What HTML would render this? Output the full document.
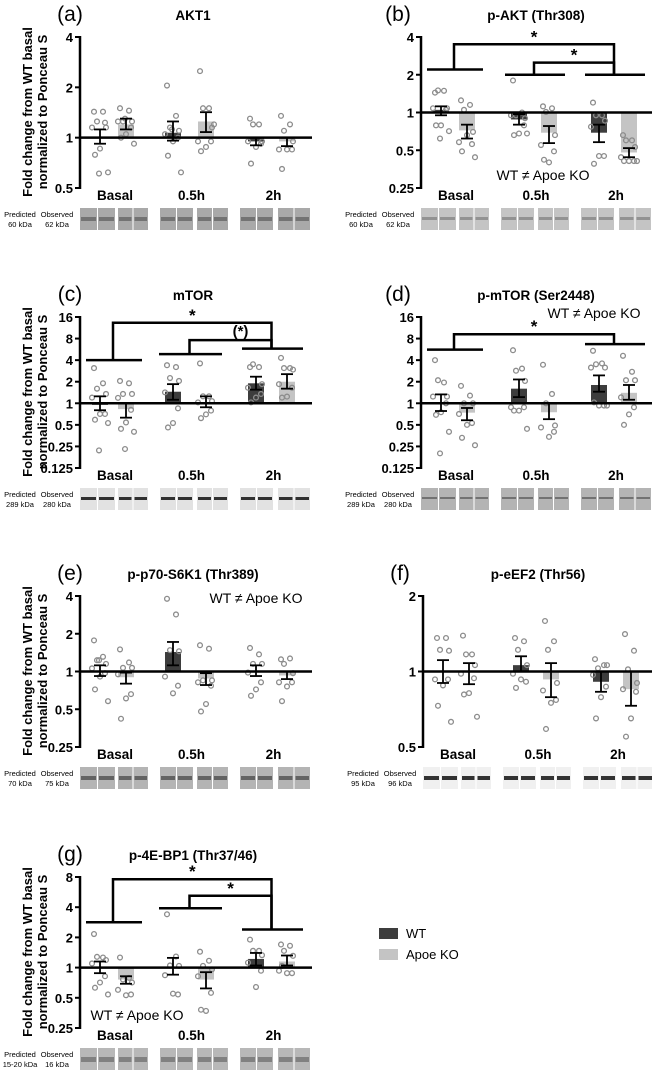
<!DOCTYPE html>
<html><head><meta charset="utf-8"><style>
html,body{margin:0;padding:0;background:#fff;}
svg{display:block;font-family:"Liberation Sans",sans-serif;}
</style></head><body>
<svg id="fig" width="652" height="1073" viewBox="0 0 652 1073" xmlns="http://www.w3.org/2000/svg"></svg>
<script>
// ---- data ----
const groups = ["Basal","0.5h","2h"];
const seriesNames = ["WT","Apoe KO"];
// panel a AKT1
const aMeans = [1.0,1.2,1.07,1.25,0.95,0.95];
const aErrLo = [0.92,1.12,0.96,1.08,0.9,0.89];
const aErrHi = [1.12,1.3,1.25,1.42,1.0,1.0];
const aPts = [[1.43,1.43,1.25,1.15,1.15,1.23,0.86,0.79,0.62,0.61],[1.5,1.45,1.25,1.25,1.25,1.15,1.05,1.0,0.92,1.3],[2.05,1.35,1.15,1.1,1.05,1.0,0.95,0.78,0.62,1.12],[2.5,1.5,1.5,1.15,0.95,0.95,0.88,0.83,1.2],[1.3,1.2,1.2,0.95,0.95,0.92,0.88,0.7],[1.35,1.2,1.1,0.95,0.85,0.85,0.85,0.65]];
const aTicks = [0.5,1,2,4];
// panel b p-AKT
const bMeans = [1.05,0.72,0.88,0.69,0.69,0.48];
const bErrLo = [0.95,0.62,0.8,0.57,0.58,0.44];
const bErrHi = [1.12,0.8,0.97,0.78,0.8,0.52];
const bPts = [[1.44,1.49,1.5,1.08,1.08,1.05,0.79,0.79,0.71,0.62],[1.25,1.15,1.05,0.7,0.58,0.56,0.66,0.49,0.44],[1.8,1.0,0.95,0.9,0.95,0.79,0.68,0.66,0.68],[1.12,1.08,1.01,0.66,0.55,0.49,0.4,0.42],[1.2,0.95,0.95,0.86,0.77,0.45,0.45,0.39],[0.66,0.6,0.6,0.53,0.44,0.41,0.41,0.41,0.41]];
const bTicks = [0.25,0.5,1,2,4];
const bGroupLines = [[0,2.2],[1,2.0],[2,2.0]];
const bLinks = [[1,2,2.5,"*"],[0,2,3.5,"*"]];
// panel c mTOR
const cMeans = [0.95,0.83,1.45,1.0,1.9,2.0];
const cErrLo = [0.8,0.63,1.12,0.88,1.55,1.6];
const cErrHi = [1.25,1.0,1.85,1.25,2.35,2.55];
const cPts = [[3.1,1.9,1.6,1.35,1.2,0.71,0.71,0.59,0.53,0.22],[2.05,1.9,1.35,1.35,1.19,0.81,0.54,0.44,0.4,0.23],[3.4,3.2,2.25,2.05,1.42,0.85,0.53,0.46],[3.6,1.25,1.25,1.07,1.03,0.79,0.7,0.62],[3.2,3.2,3.5,1.85,1.65,1.35,1.2,1.03],[4.3,3.1,3.1,2.95,1.85,1.65,1.24,1.2]];
const cTicks = [0.125,0.25,0.5,1,2,4,8,16];
const cGroupLines = [[0,4],[1,4.85],[2,5.8]];
const cLinks = [[1,2,7.6,"(*)"],[0,2,13.3,"*"]];
// panel d p-mTOR
const dMeans = [1.0,0.74,1.6,0.75,1.8,1.4];
const dErrLo = [0.78,0.58,1.22,0.6,1.45,1.12];
const dErrHi = [1.33,0.86,2.15,1.0,2.45,1.8];
const dPts = [[4.0,1.95,2.1,1.24,1.24,1.0,0.75,0.69,0.4,0.2],[1.75,1.28,1.0,1.0,0.71,0.53,0.5,0.33,0.26],[5.5,3.05,2.85,2.05,0.88,0.88,0.79,0.79,0.44],[3.45,1.35,1.0,0.49,0.46,0.4,0.34],[5.4,3.6,3.5,3.15,3.15,0.93,0.93,1.03,0.93],[4.6,2.75,2.1,2.1,1.21,0.88,0.7,0.5]];
const dGroupLines = [[0,5.6],[2,6.7]];
const dLinks = [[0,2,9.2,"*"]];
// panel e p-p70-S6K1
const eMeans = [1.0,0.9,1.43,0.88,1.0,0.93];
const eErrLo = [0.92,0.8,1.12,0.78,0.92,0.87];
const eErrHi = [1.12,0.98,1.72,0.97,1.12,1.0];
const ePts = [[1.77,1.31,1.23,1.15,1.06,0.97,0.91,0.72,0.58,1.23],[1.5,1.18,1.07,1.07,0.95,0.66,0.61,0.42],[3.8,2.85,1.48,1.45,0.91,0.77,0.67],[1.62,1.52,0.85,0.85,0.82,0.77,0.55,0.48],[1.54,1.37,1.15,1.15,0.98,0.82,0.72,0.64],[1.25,1.27,1.15,0.97,0.82,0.82,0.76,0.58]];
// panel f p-eEF2
const fMeans = [1.0,1.0,1.06,0.93,0.91,0.85];
const fErrLo = [0.9,0.89,1.0,0.79,0.83,0.73];
const fErrHi = [1.11,1.08,1.15,1.08,1.0,1.0];
const fPts = [[1.36,1.36,1.22,1.21,0.93,0.93,0.88,0.73,0.63],[1.39,1.17,1.17,1.06,0.98,0.94,0.82,0.81,0.66],[1.36,1.32,1.22,1.06,0.98,0.91,0.93,0.86],[1.59,1.32,1.22,0.9,0.84,0.77,0.75,0.59],[1.12,1.06,1.03,1.06,0.97,0.87,0.79,0.65],[1.41,1.21,1.02,0.9,0.85,0.83,0.65,0.55]];
const fTicks = [0.5,1,2];
// panel g p-4E-BP1
const gMeans = [1.0,0.76,1.0,0.76,1.22,1.15];
const gErrLo = [0.88,0.69,0.85,0.62,1.05,1.05];
const gErrHi = [1.15,0.82,1.25,0.9,1.4,1.32];
const gPts = [[2.16,1.26,1.28,1.19,1.1,0.82,0.71,0.63,0.54],[1.26,0.79,0.76,0.71,0.6,0.54,0.53],[3.4,1.29,1.05,1.04,0.84,0.54,0.55],[1.44,1.17,1.04,0.96,0.82,0.56,0.37,0.38],[1.9,1.47,1.47,1.33,1.12,0.93,0.64],[1.7,1.65,1.47,1.31,0.93,0.88,0.88,1.04]];
const gTicks = [0.25,0.5,1,2,4,8];
const gGroupLines = [[0,2.83],[1,3.9],[2,2.4]];
const gLinks = [[1,2,5.2,"*"],[0,2,7.6,"*"]];

// ---- drawing ----
const NS="http://www.w3.org/2000/svg";
const svg=document.getElementById('fig');
function mk(tag,attrs,parent){const e=document.createElementNS(NS,tag);for(const k in attrs)e.setAttribute(k,attrs[k]);(parent||svg).appendChild(e);return e;}
const jit=[-6,3,-3,6,-8,5,0,-5,8,-1];
const relLeft=[20,46,93,126,176,207];
const relRight=[20,46,98,128,178,208];
const blotsRel=[[0,35],[38,68],[80,113],[117,148],[160,193],[198,230]];

function panel(p){
  const g=mk('g',{});
  
  
  const ax=p.ax, top=p.oy+37, bot=p.oy+188;
  const lmin=Math.log2(p.ticks[0]), lmax=Math.log2(p.ticks[p.ticks.length-1]);
  const y=v=>bot-(Math.log2(v)-lmin)/(lmax-lmin)*(bot-top);
  const xs=(p.right?relRight:relLeft).map(r=>ax+r);
  let t=mk('text',{x:p.right?ax-23:ax-10,y:p.oy+21,'font-size':21,'text-anchor':'middle'},g);t.textContent='('+p.id+')';
  
  t=mk('text',{x:ax+(p.right?115:113),y:p.oy+20,'font-size':13.5,'font-weight':'bold','text-anchor':'middle'},g);t.textContent=p.title;
  
  const axis=mk('line',{x1:ax,x2:ax,y1:top-1,y2:bot+1,stroke:'#000','stroke-width':2.5},g);
  
  p.ticks.forEach(v=>{
    const tk=mk('line',{x1:ax-5,x2:ax,y1:y(v),y2:y(v),stroke:'#000','stroke-width':2},g);
    
    const tl=mk('text',{x:ax-7,y:y(v)+5,'font-size':13,'font-weight':'bold','text-anchor':'end'},g);tl.textContent=String(v);
    
  });
  if(!p.right){
    const yt=mk('text',{transform:`translate(${ax-48},${p.oy+112}) rotate(-90)`,'font-size':13,'font-weight':'bold','text-anchor':'middle'},g);
    
    const s1=mk('tspan',{x:0,dy:0},yt);s1.textContent='Fold change from WT basal';
    const s2=mk('tspan',{x:0,dy:15},yt);s2.textContent='normalized to Ponceau S';
  }
  p.means.forEach((m,i)=>{
    const y1=Math.min(y(m),y(1)),h=Math.abs(y(m)-y(1));
    const r=mk('rect',{x:xs[i]-8,y:y1,width:16,height:Math.max(h,0.5),fill:i%2?'#c4c4c4':'#3d3d3d'},g);
    
  });
  p.pts.forEach((arr,i)=>arr.forEach((v,k)=>{
    const c=mk('circle',{cx:xs[i]+jit[k%10],cy:y(v),r:2.4,fill:'none',stroke:'#8c8c8c','stroke-width':1.3},g);
    
  }));
  const bl=mk('line',{x1:ax,x2:p.right?652:ax+232,y1:y(1),y2:y(1),stroke:'#000','stroke-width':2.5},g);
  
  p.means.forEach((m,i)=>{
    const eg=mk('g',{},g);
    mk('line',{x1:xs[i],x2:xs[i],y1:y(p.lo[i]),y2:y(p.hi[i]),stroke:'#000','stroke-width':1.8},eg);
    mk('line',{x1:xs[i]-6,x2:xs[i]+6,y1:y(p.lo[i]),y2:y(p.lo[i]),stroke:'#000','stroke-width':1.8},eg);
    mk('line',{x1:xs[i]-6,x2:xs[i]+6,y1:y(p.hi[i]),y2:y(p.hi[i]),stroke:'#000','stroke-width':1.8},eg);
  });
  const gc=gi=>(xs[gi*2]+xs[gi*2+1])/2;
  const glv={};
  (p.gl||[]).forEach(([gi,v])=>{glv[gi]=v;
    const l=mk('line',{x1:xs[gi*2]-14,x2:xs[gi*2+1]+16,y1:y(v),y2:y(v),stroke:'#000','stroke-width':2.5},g);
    });
  (p.links||[]).forEach(([a,b,v,s])=>{
    const bg=mk('g',{},g);
    mk('path',{d:`M${gc(a)},${y(glv[a])} V${y(v)} H${gc(b)} V${y(glv[b])}`,fill:'none',stroke:'#000','stroke-width':2.5},bg);
    const st=mk('text',{x:(gc(a)+gc(b))/2+(s.length>1?10:0),y:y(v)-(s.length>1?4:2),'font-size':s.length>1?15:17,'font-weight':'bold','text-anchor':'middle'},bg);st.textContent=s;
  });
  if(p.note){const n=mk('text',{x:p.note[0],y:p.note[1],'font-size':14,'text-anchor':'middle'},g);n.textContent='WT \u2260 Apoe KO';
    }
  groups.forEach((gl,gi)=>{const tx=mk('text',{x:gc(gi)+2,y:p.oy+200,'font-size':13.5,'font-weight':'bold','text-anchor':'middle'},g);tx.textContent=gl;
    });
  const lx=ax-60;
  let k=mk('text',{x:lx,y:p.oy+217,'font-size':7.5,'text-anchor':'middle'},g);k.textContent='Predicted';
  
  k=mk('text',{x:lx,y:p.oy+227,'font-size':7.5,'text-anchor':'middle'},g);k.textContent=p.mw[0];
  
  k=mk('text',{x:lx+37,y:p.oy+217,'font-size':7.5,'text-anchor':'middle'},g);k.textContent='Observed';
  
  k=mk('text',{x:lx+37,y:p.oy+227,'font-size':7.5,'text-anchor':'middle'},g);k.textContent=p.mw[1];
  
  blotsRel.forEach(([a,b],bi)=>{
    const bgp=mk('g',{},g);
    const w=(b-a-1)/2;
    [0,1].forEach(l=>{
      const x0=ax+a+l*(w+1);
      mk('rect',{x:x0,y:p.oy+208,width:w,height:22,fill:p.bcol},bgp);
      mk('rect',{x:x0+1,y:p.oy+217,width:w-2,height:p.bh,fill:p.band,opacity:0.85},bgp);
    });
  });
}
panel({id:'a',title:'AKT1',ax:80,oy:0,right:false,ticks:aTicks,means:aMeans,lo:aErrLo,hi:aErrHi,pts:aPts,mw:['60 kDa','62 kDa'],bcol:'#a9a9a9',band:'#6a6a6a',bh:4});
panel({id:'b',title:'p-AKT (Thr308)',ax:421,oy:0,right:true,ticks:bTicks,means:bMeans,lo:bErrLo,hi:bErrHi,pts:bPts,gl:bGroupLines,links:bLinks,note:[543,180],mw:['60 kDa','62 kDa'],bcol:'#c4c4c4',band:'#8a8a8a',bh:3});
panel({id:'c',title:'mTOR',ax:80,oy:280,right:false,ticks:cTicks,means:cMeans,lo:cErrLo,hi:cErrHi,pts:cPts,gl:cGroupLines,links:cLinks,mw:['289 kDa','280 kDa'],bcol:'#e2e2e2',band:'#111',bh:3});
panel({id:'d',title:'p-mTOR (Ser2448)',ax:421,oy:280,right:true,ticks:cTicks,means:dMeans,lo:dErrLo,hi:dErrHi,pts:dPts,gl:dGroupLines,links:dLinks,note:[594,318],mw:['289 kDa','280 kDa'],bcol:'#b4b4b4',band:'#666',bh:2});
panel({id:'e',title:'p-p70-S6K1 (Thr389)',ax:80,oy:559,right:false,ticks:bTicks,means:eMeans,lo:eErrLo,hi:eErrHi,pts:ePts,note:[256,603],mw:['70 kDa','75 kDa'],bcol:'#b4b4b4',band:'#555',bh:4});
panel({id:'f',title:'p-eEF2 (Thr56)',ax:423,oy:559,right:true,ticks:fTicks,means:fMeans,lo:fErrLo,hi:fErrHi,pts:fPts,mw:['95 kDa','96 kDa'],bcol:'#f0f0f0',band:'#111',bh:4});
panel({id:'g',title:'p-4E-BP1 (Thr37/46)',ax:80,oy:840,right:false,ticks:gTicks,means:gMeans,lo:gErrLo,hi:gErrHi,pts:gPts,gl:gGroupLines,links:gLinks,note:[137,1020],mw:['15-20 kDa','16 kDa'],bcol:'#b8b8b8',band:'#777',bh:5});
const lg=mk('g',{});


seriesNames.forEach((s,i)=>{
  const e=mk('g',{},lg);
  
  
  mk('rect',{x:379,y:928+i*21,width:19,height:11,fill:i?'#c4c4c4':'#3d3d3d'},e);
  const t=mk('text',{x:406,y:938+i*21,'font-size':13},e);t.textContent=s;
});
</script>
</body></html>
